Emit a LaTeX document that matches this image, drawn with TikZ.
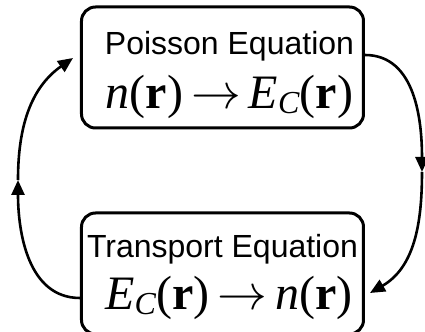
\documentclass[tikz,border=0pt]{standalone}
\usepackage{fontspec}
\setmainfont{Liberation Serif}
\setsansfont{Liberation Sans}
\usetikzlibrary{arrows.meta,positioning}
\newcommand{\rv}{\textbf{r}}
\newcommand{\Ec}{\textit{E}\raisebox{-2.5pt}{\fontsize{16}{16}\selectfont\textit{C}}}
\newcommand{\boxtitle}[1]{{\sffamily\fontsize{16}{18}\selectfont #1}}

\begin{document}
\begin{tikzpicture}[
  x=0.5pt, y=-0.5pt,
  node distance=41pt,
  eqbox/.style={rectangle, draw, rounded corners=7pt, line width=1.5pt,
    minimum width=141pt, minimum height=60.5pt, inner sep=0pt, align=center,
    font=\fontsize{24}{27}\selectfont},
  loop/.style={-{Triangle[length=7.5pt,width=6.5pt]}, line width=1.3pt}
]
  \useasboundingbox (0,0) rectangle (425,332);
  \node[eqbox] (poisson) at (222.5,67.5)
    {\rule{0pt}{19.5pt}\hspace*{7pt}\boxtitle{Poisson Equation}\\
     \hspace*{7pt}\textit{n}(\rv)\,$\rightarrow$\,\Ec(\rv)};
  \node[eqbox, below=of poisson] (transport)
    {\rule{0pt}{15pt}\boxtitle{Transport Equation}\\[-1pt]
     \hspace*{6.5pt}\Ec(\rv)\,$\rightarrow$\,\textit{n}(\rv)};
  \coordinate (lmid) at (18,180);
  \coordinate (rmid) at (422,172);
  % loop between the two boxes
  \draw[loop] ([yshift=6.25pt]poisson.east) to[out=0,in=90] (rmid);
  \draw[loop] (rmid) to[out=-90,in=30] ([xshift=2.5pt,yshift=-9.75pt]transport.east);
  \draw[loop] ([yshift=-12.25pt]transport.west) to[out=180,in=-90] (lmid);
  \draw[loop] (lmid) to[out=90,in=215] ([xshift=-3.5pt,yshift=4.75pt]poisson.west);
\end{tikzpicture}
\end{document}
